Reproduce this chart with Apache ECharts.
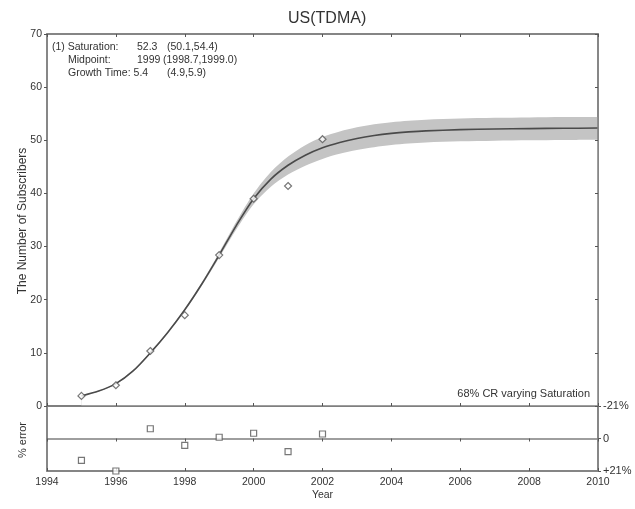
<!DOCTYPE html>
<html>
<head>
<meta charset="utf-8">
<script src="https://cdn.jsdelivr.net/npm/echarts@6/dist/echarts.min.js"></script>
<style>
  html, body { margin: 0; padding: 0; background: #fff; }
  #chart { width: 635px; height: 509px; }
</style>
</head>
<body>
<div id="chart"></div>
<script>
// Observed subscribers per year
const years = [1995, 1996, 1997, 1998, 1999, 2000, 2001, 2002];
const subscribers = [1.9, 3.9, 10.35, 17.1, 28.4, 39.0, 41.4, 50.2];

// Fitted growth curve and its 68% band (saturation varied)
const fitYears = [1995, 1995.5, 1996, 1996.5, 1997, 1997.5, 1998, 1998.5, 1999, 1999.5,
                  2000, 2000.5, 2001, 2001.5, 2002, 2002.5, 2003, 2003.5, 2004, 2004.5,
                  2005, 2006, 2007, 2008, 2009, 2010];
const fitValues = [1.9, 2.8, 4.2, 6.6, 10.0, 13.8, 18.1, 23.0, 28.4, 34.0,
                   39.0, 42.7, 45.3, 47.2, 48.6, 49.6, 50.35, 50.9, 51.3, 51.58,
                   51.78, 52.0, 52.12, 52.2, 52.26, 52.3];
const bandUpper = [1.95, 2.87, 4.30, 6.72, 10.15, 13.98, 18.32, 23.32, 28.90, 34.72,
                   40.00, 44.05, 46.95, 49.08, 50.60, 51.65, 52.43, 53.00, 53.40, 53.68,
                   53.88, 54.10, 54.22, 54.30, 54.36, 54.40];
const bandLower = [1.85, 2.73, 4.10, 6.47, 9.84, 13.61, 17.87, 22.66, 27.88, 33.24,
                   37.95, 41.28, 43.57, 45.23, 46.50, 47.45, 48.17, 48.70, 49.10, 49.38,
                   49.58, 49.80, 49.92, 50.00, 50.06, 50.10];

// Percent error of each observation against the fit
const errorPct = [14.1, 21.0, -6.3, 4.4, -0.8, -3.4, 8.5, -2.9];

const FONT = 'Liberation Sans';
const TXT = '#333';
const FRAME = '#7f7f7f';
const SMOOTH = 0.3;

const pairs = (xs, ys) => xs.map((x, i) => [x, ys[i]]);

const chart = echarts.init(document.getElementById('chart'), null, { renderer: 'canvas' });

const xBase = {
  type: 'value', min: 1994, max: 2010, interval: 2, z: 5,
  splitLine: { show: false },
  axisLine: { lineStyle: { color: FRAME, width: 1.5 } },
  axisTick: { show: true, inside: true, length: 3, lineStyle: { color: '#555' } },
  axisLabel: { show: false }
};

const note = (text, left, top) => ({
  type: 'text', left, top, z: 10,
  style: { text, font: '10.5px "' + FONT + '"', fill: TXT }
});

chart.setOption({
  animation: false,
  textStyle: { fontFamily: FONT, color: TXT },
  title: {
    text: 'US(TDMA)', left: 283, top: 6,
    textStyle: { fontFamily: FONT, fontSize: 16, fontWeight: 'normal', color: TXT }
  },
  grid: [
    { left: 47, top: 34, width: 551, height: 372, show: true, borderColor: FRAME, borderWidth: 1.5 },
    { left: 47, top: 406, width: 551, height: 65, show: true, borderColor: FRAME, borderWidth: 1.5 }
  ],
  xAxis: [
    Object.assign({}, xBase, { gridIndex: 0, position: 'bottom' }),
    Object.assign({}, xBase, { gridIndex: 0, position: 'top', axisLine: { onZero: false, lineStyle: { color: FRAME, width: 1.5 } } }),
    Object.assign({}, xBase, {
      gridIndex: 1, position: 'bottom',
      axisLine: { onZero: false, lineStyle: { color: FRAME, width: 1.5 } },
      axisLabel: { show: true, fontSize: 10.5, color: TXT, margin: 6, fontFamily: FONT, formatter: v => String(v) },
      name: 'Year', nameLocation: 'middle', nameGap: 19,
      nameTextStyle: { fontSize: 10.5, color: TXT, fontFamily: FONT }
    }),
    Object.assign({}, xBase, {
      gridIndex: 1, position: 'top',
      axisLine: { onZero: true, onZeroAxisIndex: 2, lineStyle: { color: FRAME, width: 1.5 } }
    })
  ],
  yAxis: [
    {
      type: 'value', gridIndex: 0, position: 'left', min: 0, max: 70, interval: 10, z: 5,
      splitLine: { show: false },
      axisLine: { show: true, lineStyle: { color: FRAME, width: 1.5 } },
      axisTick: { show: true, length: 3, lineStyle: { color: '#555' } },
      axisLabel: { fontSize: 10.5, color: TXT, margin: 5, fontFamily: FONT }
    },
    {
      type: 'value', gridIndex: 0, position: 'right', min: 0, max: 70, interval: 10, z: 5,
      splitLine: { show: false },
      axisLine: { show: true, lineStyle: { color: FRAME, width: 1.5 } },
      axisTick: { show: true, inside: true, length: 3, lineStyle: { color: '#555' } },
      axisLabel: { show: false }
    },
    {
      type: 'value', gridIndex: 1, position: 'right', min: -21, max: 21, interval: 21, inverse: true,
      splitLine: { show: false },
      axisLine: { show: true, lineStyle: { color: FRAME, width: 1.5 } },
      axisTick: { show: true, length: 3, lineStyle: { color: '#555' } },
      axisLabel: {
        fontSize: 11, color: TXT, margin: 5, fontFamily: FONT,
        formatter: v => v === 0 ? '0' : (v > 0 ? '+' + v + '%' : v + '%')
      }
    },
    {
      type: 'value', gridIndex: 1, position: 'left', min: -21, max: 21, interval: 21, inverse: true,
      splitLine: { show: false },
      axisLine: { show: true, lineStyle: { color: FRAME, width: 1.5 } },
      axisTick: { show: false },
      axisLabel: { show: false }
    }
  ],
  graphic: [
    {
      type: 'text', x: 23, y: 221, rotation: Math.PI / 2, z: 10,
      style: { text: 'The Number of Subscribers', font: '12px "' + FONT + '"', fill: TXT,
               textAlign: 'center', textVerticalAlign: 'middle' }
    },
    {
      type: 'text', x: 23, y: 440, rotation: Math.PI / 2, z: 10,
      style: { text: '% error', font: '11px "' + FONT + '"', fill: TXT,
               textAlign: 'center', textVerticalAlign: 'middle' }
    },
    note('(1) Saturation:', 52, 42),
    note('52.3', 137, 42),
    note('(50.1,54.4)', 167, 42),
    note('Midpoint:', 68, 55),
    note('1999', 137, 55),
    note('(1998.7,1999.0)', 163, 55),
    note('Growth Time: 5.4', 68, 68),
    note('(4.9,5.9)', 167, 68),
    {
      type: 'text', right: 45, top: 388, z: 10,
      style: { text: '68% CR varying Saturation', font: '11px "' + FONT + '"', fill: TXT }
    }
  ],
  series: [
    {
      // upper edge of the band, shaded down to the axis
      name: 'band-high', type: 'line', xAxisIndex: 0, yAxisIndex: 0, z: 1,
      data: pairs(fitYears, bandUpper), smooth: SMOOTH, symbol: 'none',
      lineStyle: { width: 0 }, areaStyle: { color: '#c4c4c4', opacity: 1 }, silent: true
    },
    {
      // lower edge of the band, cleared back to white below it
      name: 'band-low', type: 'line', xAxisIndex: 0, yAxisIndex: 0, z: 2,
      data: pairs(fitYears, bandLower), smooth: SMOOTH, symbol: 'none',
      lineStyle: { width: 0 }, areaStyle: { color: '#ffffff', opacity: 1 }, silent: true
    },
    {
      name: 'fit', type: 'line', xAxisIndex: 0, yAxisIndex: 0, z: 3,
      data: pairs(fitYears, fitValues), smooth: SMOOTH, symbol: 'none',
      lineStyle: { color: '#4a4a4a', width: 1.6 }
    },
    {
      name: 'observed', type: 'scatter', xAxisIndex: 0, yAxisIndex: 0, z: 6,
      data: pairs(years, subscribers), symbol: 'diamond', symbolSize: 7,
      itemStyle: { color: '#fff', borderColor: '#555', borderWidth: 1.2 }
    },
    {
      name: 'error', type: 'scatter', xAxisIndex: 2, yAxisIndex: 2, z: 6,
      data: pairs(years, errorPct), symbol: 'rect', symbolSize: 6,
      itemStyle: { color: '#fff', borderColor: '#555', borderWidth: 1.2 }
    }
  ]
});
</script>
</body>
</html>
